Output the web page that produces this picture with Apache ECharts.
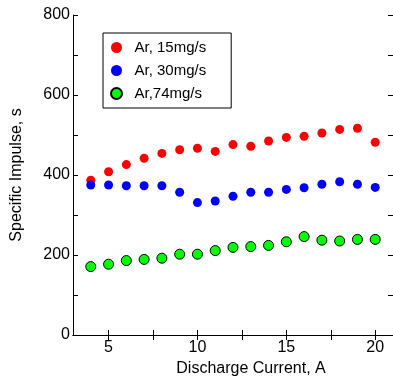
<!DOCTYPE html>
<html>
<head>
<meta charset="utf-8">
<script src="https://cdn.jsdelivr.net/npm/echarts@6/dist/echarts.min.js"></script>
<style>
  html, body { margin: 0; padding: 0; background: #fff; }
  #chart { width: 393px; height: 378px; }
</style>
</head>
<body>
<div id="chart"></div>
<script>
// Discharge current (A) and measured specific impulse (s) for three argon flow rates
const current = [4, 5, 6, 7, 8, 9, 10, 11, 12, 13, 14, 15, 16, 17, 18, 19, 20];
const isp15 = [387, 408, 426, 442, 454, 463, 467, 459, 476, 472, 485, 494, 497, 505, 514, 517, 482];
const isp30 = [375, 375, 373, 373, 373, 357, 331, 335, 347, 357, 357, 364, 368, 377, 383, 377, 369];
const isp74 = [171, 177, 186, 189, 192, 202, 202, 211, 219, 221, 224, 233, 246, 237, 235, 239, 239];
const seriesNames = ['Ar, 15mg/s', 'Ar, 30mg/s', 'Ar,74mg/s'];
const xLabelValues = [5, 10, 15, 20];
const xTickValues = [5, 7.5, 10, 12.5, 15, 17.5, 20];
const yLabelValues = [0, 200, 400, 600, 800];

const FONT = '"Liberation Sans", Arial, sans-serif';
const pairs = ys => current.map((x, i) => [x, ys[i]]);

const axisLineStyle = { show: true, lineStyle: { color: '#000', width: 1 } };
const innerTicks = { show: true, inside: true, length: 5, lineStyle: { color: '#000', width: 1 } };

const chart = echarts.init(document.getElementById('chart'), null, { renderer: 'canvas' });
chart.setOption({
  animation: false,
  backgroundColor: '#fff',
  grid: { left: 73, top: 15, width: 320, height: 320, outerBoundsMode: 'none', containLabel: false },
  legend: {
    orient: 'vertical',
    left: 103,
    top: 33,
    padding: [6, 25, 6, 7],
    borderColor: '#000',
    borderWidth: 1,
    itemWidth: 26,
    itemHeight: 11,
    itemGap: 6,
    textStyle: { fontFamily: FONT, fontSize: 15, color: '#000', lineHeight: 17 },
    data: seriesNames
  },
  xAxis: [
    {
      type: 'value', position: 'bottom', min: 3, max: 21,
      name: 'Discharge Current, A', nameLocation: 'middle', nameGap: 22,
      nameTextStyle: { fontFamily: FONT, fontSize: 16, color: '#000', padding: [0, 0, 0, 36] },
      axisLine: axisLineStyle,
      axisTick: Object.assign({ customValues: xTickValues }, innerTicks),
      axisLabel: { customValues: xLabelValues, fontFamily: FONT, fontSize: 16, color: '#000', margin: 5 },
      splitLine: { show: false }
    },
    {
      type: 'value', position: 'top', min: 3, max: 21,
      axisLine: axisLineStyle,
      axisTick: Object.assign({ customValues: xTickValues }, innerTicks),
      axisLabel: { show: false },
      splitLine: { show: false }
    }
  ],
  yAxis: [
    {
      type: 'value', position: 'left', min: 0, max: 800, interval: 100,
      name: 'Specific Impulse, s', nameLocation: 'middle', nameGap: 48,
      nameTextStyle: { fontFamily: FONT, fontSize: 16, color: '#000' },
      axisLine: axisLineStyle,
      axisTick: innerTicks,
      axisLabel: { customValues: yLabelValues, fontFamily: FONT, fontSize: 16, color: '#000', margin: 3 },
      splitLine: { show: false }
    },
    {
      type: 'value', position: 'right', min: 0, max: 800, interval: 100,
      axisLine: axisLineStyle,
      axisTick: innerTicks,
      axisLabel: { show: false },
      splitLine: { show: false }
    }
  ],
  series: [
    {
      name: seriesNames[0], type: 'scatter', symbol: 'circle', symbolSize: 9,
      itemStyle: { color: '#ff0000', opacity: 1 }, data: pairs(isp15)
    },
    {
      name: seriesNames[1], type: 'scatter', symbol: 'circle', symbolSize: 9,
      itemStyle: { color: '#0000ff', opacity: 1 }, data: pairs(isp30)
    },
    {
      name: seriesNames[2], type: 'scatter', symbol: 'circle', symbolSize: 10,
      itemStyle: { color: '#00ff00', opacity: 1, borderColor: '#000', borderWidth: 1 }, data: pairs(isp74)
    }
  ]
});
</script>
</body>
</html>
